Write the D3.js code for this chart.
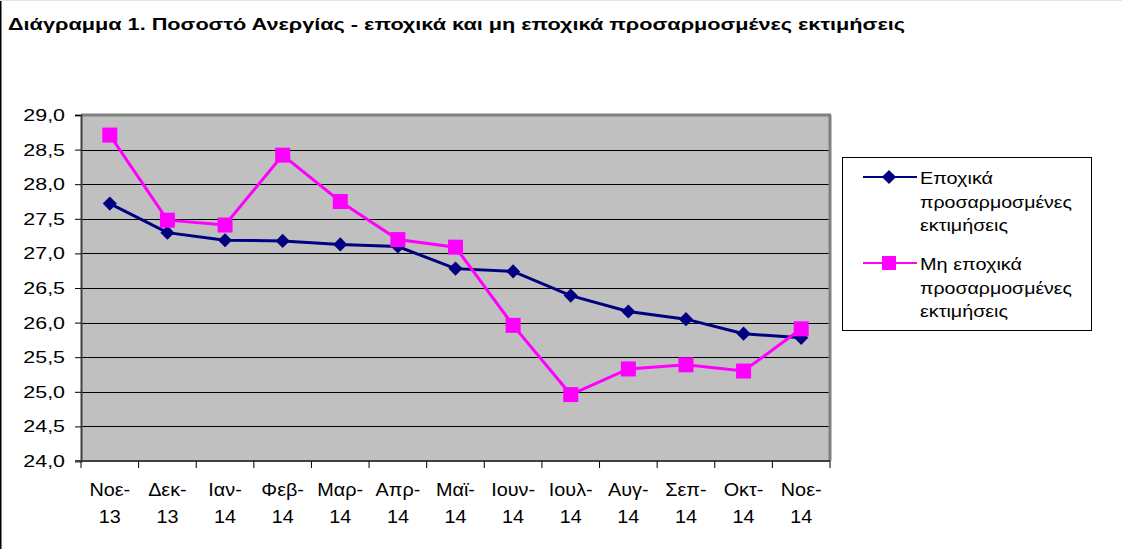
<!DOCTYPE html>
<html>
<head>
<meta charset="utf-8">
<script src="https://cdn.jsdelivr.net/npm/d3@7"></script>
<style>
    body { margin: 0; background: #fff; }
    svg { display: block; font-family: "Liberation Sans", Arial, sans-serif; }
</style>
</head>
<body>
<svg id="chart" width="1122" height="549"></svg>
<script>
// μήνες (δύο γραμμές ανά ετικέτα)
var months = ["Νοε-", "Δεκ-", "Ιαν-", "Φεβ-", "Μαρ-", "Απρ-", "Μαϊ-", "Ιουν-", "Ιουλ-", "Αυγ-", "Σεπ-", "Οκτ-", "Νοε-"];
var years = ["13", "13", "14", "14", "14", "14", "14", "14", "14", "14", "14", "14", "14"];

// εποχικά προσαρμοσμένες
var seasonal = [27.72, 27.30, 27.19, 27.18, 27.13, 27.10, 26.78, 26.74, 26.39, 26.16, 26.05, 25.84, 25.78];
// μη εποχικά προσαρμοσμένες
var nonSeasonal = [28.71, 27.48, 27.41, 28.42, 27.75, 27.20, 27.09, 25.96, 24.96, 25.33, 25.39, 25.30, 25.91];

var yTicks = [24.0, 24.5, 25.0, 25.5, 26.0, 26.5, 27.0, 27.5, 28.0, 28.5, 29.0];

var seriesNames = [
    ["Εποχικά", "προσαρμοσμένες", "εκτιμήσεις"],
    ["Μη εποχικά", "προσαρμοσμένες", "εκτιμήσεις"]
];

var svg = d3.select("#chart"),
    plot = {left: 81, top: 115, right: 830, bottom: 461},
    fmt = function (v) { return d3.format(".1f")(v).replace(".", ","); };

// το αρχικό κείμενο είναι πιο φαρδύ, το τεντώνουμε οριζόντια
function stretch(sel, factor) {
    sel.each(function () {
        var w = this.getComputedTextLength();
        d3.select(this)
            .attr("textLength", w * factor)
            .attr("lengthAdjust", "spacingAndGlyphs");
    });
}

// πλαίσιο
svg.append("line").attr("x1", 0.5).attr("x2", 0.5).attr("y1", 0).attr("y2", 549)
    .attr("stroke", "#000").attr("stroke-width", 2);
svg.append("line").attr("x1", 0).attr("x2", 1122).attr("y1", 0.5).attr("y2", 0.5)
    .attr("stroke", "#e4e4e4").attr("stroke-width", 1);

svg.append("text")
    .attr("x", 8).attr("y", 30)
    .attr("font-size", 16).attr("font-weight", "bold")
    .attr("textLength", 897).attr("lengthAdjust", "spacingAndGlyphs")
    .text("Διάγραμμα 1. Ποσοστό Ανεργίας - εποχικά και μη εποχικά προσαρμοσμένες εκτιμήσεις");

var x = d3.scaleBand()
    .domain(d3.range(months.length))
    .range([plot.left, plot.right]);

var y = d3.scaleLinear()
    .domain([24, 29])
    .range([plot.bottom, plot.top]);

// φόντο
svg.append("rect")
    .attr("x", plot.left).attr("y", plot.top)
    .attr("width", plot.right - plot.left).attr("height", plot.bottom - plot.top)
    .attr("fill", "#c0c0c0");

// γραμμές πλέγματος
svg.append("g")
    .selectAll("line")
    .data(yTicks.slice(1, -1))
    .enter().append("line")
    .attr("x1", plot.left).attr("x2", plot.right)
    .attr("y1", function (d) { return Math.round(y(d)) + 0.5; })
    .attr("y2", function (d) { return Math.round(y(d)) + 0.5; })
    .attr("stroke", "#000").attr("stroke-width", 1);

// περίγραμμα
svg.append("line").attr("x1", plot.left).attr("x2", plot.right + 1).attr("y1", plot.top).attr("y2", plot.top)
    .attr("stroke", "#808080").attr("stroke-width", 3);
svg.append("line").attr("x1", plot.right).attr("x2", plot.right).attr("y1", plot.top).attr("y2", plot.bottom)
    .attr("stroke", "#808080").attr("stroke-width", 3);

// άξονας y
var yAxis = svg.append("g")
    .attr("transform", "translate(" + plot.left + ",0)")
    .call(d3.axisLeft(y).tickValues(yTicks).tickFormat(fmt).tickSize(6).tickPadding(10));
yAxis.select(".domain").attr("stroke", "#404040").attr("stroke-width", 2);
yAxis.selectAll(".tick line").attr("stroke", "#000");
yAxis.selectAll(".tick text")
    .attr("font-size", 17).attr("fill", "#000")
    .attr("font-family", "Liberation Sans, Arial, sans-serif")
    .call(stretch, 1.26);

// άξονας x
var xAxis = svg.append("g")
    .attr("transform", "translate(0," + plot.bottom + ")");
xAxis.append("line")
    .attr("x1", plot.left - 6).attr("x2", plot.right)
    .attr("stroke", "#404040").attr("stroke-width", 2);
xAxis.selectAll(".xtick")
    .data(d3.range(months.length + 1))
    .enter().append("line")
    .attr("class", "xtick")
    .attr("x1", function (d) { return d < months.length ? x(d) : plot.right; })
    .attr("x2", function (d) { return d < months.length ? x(d) : plot.right; })
    .attr("y1", 0).attr("y2", 7)
    .attr("stroke", "#000");

var xLabels = xAxis.selectAll(".xlabel")
    .data(months)
    .enter().append("g")
    .attr("class", "xlabel");
xLabels.append("text")
    .attr("text-anchor", "middle")
    .attr("font-size", 18.5)
    .attr("x", function (d, i) { return x(i) + x.bandwidth() / 2; })
    .attr("y", 35)
    .text(function (d) { return d; })
    .call(stretch, 1.07);
xLabels.append("text")
    .attr("text-anchor", "middle")
    .attr("font-size", 18.5)
    .attr("x", function (d, i) { return x(i) + x.bandwidth() / 2; })
    .attr("y", 62)
    .text(function (d, i) { return years[i]; })
    .call(stretch, 1.07);

var line = d3.line()
    .x(function (d, i) { return x(i) + x.bandwidth() / 2; })
    .y(function (d) { return y(d); });

var colors = ["#000080", "#ff00ff"];

// σειρές
[seasonal, nonSeasonal].forEach(function (values, s) {
    svg.append("path")
        .datum(values)
        .attr("d", line)
        .attr("fill", "none")
        .attr("stroke", colors[s])
        .attr("stroke-width", 3);
});

var diamond = d3.symbol().type(d3.symbolSquare).size(100);

svg.append("g").selectAll("path")
    .data(seasonal)
    .enter().append("path")
    .attr("d", diamond)
    .attr("transform", function (d, i) {
        return "translate(" + (x(i) + x.bandwidth() / 2) + "," + y(d) + ") rotate(45)";
    })
    .attr("fill", colors[0]);

svg.append("g").selectAll("rect")
    .data(nonSeasonal)
    .enter().append("rect")
    .attr("x", function (d, i) { return x(i) + x.bandwidth() / 2 - 7.5; })
    .attr("y", function (d) { return y(d) - 7.5; })
    .attr("width", 15).attr("height", 15)
    .attr("fill", colors[1]);

// υπόμνημα
var legend = svg.append("g");
legend.append("rect")
    .attr("x", 842.5).attr("y", 157.5)
    .attr("width", 249).attr("height", 173)
    .attr("fill", "#fff").attr("stroke", "#000").attr("stroke-width", 1);

// πλάτη γραμμών κειμένου στο υπόμνημα
var legendWidths = [[73, 152, 88], [102, 152, 88]];

var entries = legend.selectAll(".entry")
    .data(seriesNames)
    .enter().append("g")
    .attr("class", "entry")
    .attr("transform", function (d, i) { return "translate(0," + (i * 86) + ")"; });

entries.append("line")
    .attr("x1", 863).attr("x2", 917)
    .attr("y1", 177).attr("y2", 177)
    .attr("stroke", function (d, i) { return colors[i]; })
    .attr("stroke-width", 2);

entries.each(function (d, i) {
    var g = d3.select(this);
    if (i === 0) {
        g.append("path")
            .attr("d", diamond)
            .attr("transform", "translate(889,177) rotate(45)")
            .attr("fill", colors[0]);
    } else {
        g.append("rect")
            .attr("x", 882).attr("y", 170)
            .attr("width", 14).attr("height", 14)
            .attr("fill", colors[1]);
    }
    g.selectAll("text")
        .data(d)
        .enter().append("text")
        .attr("x", 920)
        .attr("y", function (t, k) { return 184 + k * 23.5; })
        .attr("font-size", 17)
        .attr("textLength", function (t, k) { return legendWidths[i][k]; })
        .attr("lengthAdjust", "spacingAndGlyphs")
        .text(function (t) { return t; });
});
</script>
</body>
</html>
